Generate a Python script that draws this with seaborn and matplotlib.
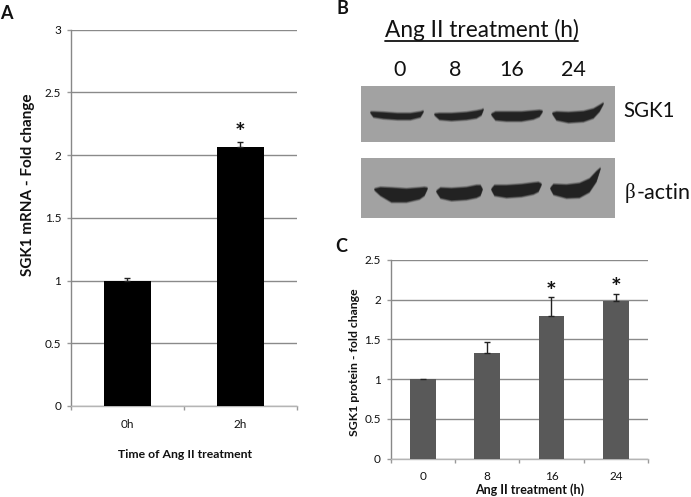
import numpy as np
import pandas as pd
import matplotlib
matplotlib.use("Agg")
import matplotlib.pyplot as plt
from matplotlib.lines import Line2D
import seaborn as sns

W, H = 691, 497

# panel A
mrna_times = ["0h", "2h"]
mrna_fold = [1.0, 2.06]
mrna_err = [0.02, 0.04]
mrna_star_y = [2.17]

# panel C
protein_times = ["0", "8", "16", "24"]
protein_fold = [1.0, 1.33, 1.79, 1.99]
protein_err = [np.nan, 0.14, 0.25, 0.08]
protein_star_y = [2.09, 2.14]

# panel B lanes and blot bands (x, centre, half thickness, in image px of each blot)
lanes = ["0", "8", "16", "24"]
lane_x = [400, 455, 512, 573]

sgk1_bands = [
    ([9, 12, 22, 36, 49, 59, 62], [26, 28, 29, 30, 30, 28, 25], [0.5, 2.5, 3, 3, 3, 2.5, 0.5]),
    ([73, 78, 90, 105, 115, 120, 122], [28, 30, 30.5, 29.5, 28, 26, 23], [0.5, 3, 3.5, 3.5, 3.5, 2.5, 0.5]),
    ([130, 134, 145, 160, 172, 178, 181], [28, 29.5, 30, 30, 28.5, 27, 25], [0.5, 4, 4.5, 4.5, 4, 3, 0.5]),
    ([191, 195, 207, 222, 232, 238, 242], [27, 29.5, 31, 30, 27, 22, 17], [0.5, 4, 5, 5, 4.5, 3, 0.5]),
]
actin_bands = [
    ([13, 19, 30, 45, 58, 63, 66], [31, 33, 36.5, 37, 35, 33, 30], [0.5, 4, 7, 6.5, 5.5, 4, 0.5]),
    ([75, 79, 90, 105, 115, 119, 121], [33, 34.5, 36, 35, 33, 32, 31], [0.5, 5, 6, 6, 6, 5, 0.5]),
    ([130, 133, 145, 160, 172, 177, 180], [31, 32, 33, 32, 30, 28.5, 26], [0.5, 5, 6, 6, 5.5, 4.5, 0.5]),
    ([189, 192, 205, 218, 228, 235, 239], [30, 31, 33, 32, 27, 18, 10], [0.5, 5, 6.5, 7, 6.5, 5, 0.5]),
]

sns.set_theme(style="white")
plt.rcParams["font.family"] = ["Lato", "DejaVu Sans"]
TEXT = "#111111"
GRID = "#8a8a8a"


def px_axes(fig, left, top, right, bottom):
    return fig.add_axes([left / W, 1 - bottom / H, (right - left) / W, (bottom - top) / H])


def px_text(fig, x, y, s, **kw):
    kw.setdefault("ha", "center")
    kw.setdefault("va", "center")
    kw.setdefault("color", TEXT)
    return fig.text(x / W, 1 - y / H, s, **kw)


def bar_panel(ax, cats, vals, errs, color, ymax, step, tick_size, bar_width):
    df = pd.DataFrame({"time": cats, "fold": vals})
    sns.barplot(data=df, x="time", y="fold", color=color, saturation=1, width=bar_width,
                ax=ax, zorder=3, errorbar=None, linewidth=0)
    pos = np.arange(len(cats))
    ax.errorbar(pos, vals, yerr=[np.zeros(len(errs)), errs], fmt="none", ecolor="#222222",
                elinewidth=1, capsize=2.5, capthick=1, zorder=4)
    ax.set_xlim(-0.5, len(cats) - 0.5)
    ax.set_ylim(0, ymax)
    ax.set_yticks(np.arange(0, ymax + step / 2, step))
    ax.set_yticklabels([f"{v:g}" for v in np.arange(0, ymax + step / 2, step)])
    ax.set_xlabel("")
    ax.set_ylabel("")
    ax.yaxis.grid(True, color=GRID, lw=1)
    ax.set_axisbelow(True)
    ax.set_xticks(np.arange(len(cats) + 1) - 0.5, minor=True)
    ax.tick_params(axis="x", which="major", length=0, labelsize=tick_size, pad=9, colors=TEXT)
    ax.tick_params(axis="x", which="minor", length=3, width=1, color="#999999", bottom=True)
    ax.tick_params(axis="y", length=3, width=1, color="#999999", left=True, labelsize=tick_size,
                   pad=4, labelcolor=TEXT)
    sns.despine(ax=ax)
    ax.spines["left"].set_color("#888888")
    ax.spines["bottom"].set_color("#b5b5b5")
    for s in ("left", "bottom"):
        ax.spines[s].set_linewidth(1)


def blot(ax, bands, height):
    ax.set_facecolor("#a2a2a2")
    ax.set_xlim(0, 254)
    ax.set_ylim(height, 0)
    ax.set_xticks([])
    ax.set_yticks([])
    for s in ax.spines.values():
        s.set_visible(False)
    for xs, mid, half in bands:
        xs, mid, half = np.array(xs), np.array(mid), np.array(half)
        # soft edge around the dark core
        for grow, alpha in ((1.6, 0.25), (0.9, 0.4), (0.3, 0.6)):
            ax.fill_between(xs, mid - half - grow, mid + half + grow, color="#303030", lw=0, alpha=alpha)
        ax.fill_between(xs, mid - half + 0.3, mid + half - 0.3, color="#222222", lw=0)


fig = plt.figure(figsize=(W / 100, H / 100), dpi=100)
fig.patch.set_facecolor("white")

# A
ax_a = px_axes(fig, 71, 29.5, 297, 406)
bar_panel(ax_a, mrna_times, mrna_fold, mrna_err, "#000000", 3, 0.5, 8.5, 0.41)
ax_a.text(1, mrna_star_y[0], "*", ha="center", va="center", fontsize=18, fontweight="bold", color=TEXT)
px_text(fig, 185.5, 454, "Time of Ang II treatment", fontsize=8.8, fontweight="bold")
px_text(fig, 28, 185, "SGK1 mRNA - Fold change", fontsize=11, fontweight="bold", rotation=90)
px_text(fig, 6.5, 19, "A", fontsize=13, fontweight="bold", va="baseline")

# B
px_text(fig, 342, 14, "B", fontsize=13, fontweight="bold", va="baseline")
px_text(fig, 481.5, 30, "Ang II treatment (h)", fontsize=16.3)
fig.add_artist(Line2D([385 / W, 578 / W], [1 - 41 / H, 1 - 41 / H], color=TEXT, lw=1.3))
for x, lab in zip(lane_x, lanes):
    px_text(fig, x, 70, lab, fontsize=15.5)
blot(px_axes(fig, 361, 86, 615, 142), sgk1_bands, 56)
blot(px_axes(fig, 361, 158, 615, 218), actin_bands, 60)
px_text(fig, 649, 111, "SGK1", fontsize=14.8)
px_text(fig, 625, 193, "β", fontsize=15, ha="left", family="Liberation Serif")
px_text(fig, 637, 193, "-actin", fontsize=15.5, ha="left")

# C
ax_c = px_axes(fig, 390.5, 260, 648, 458.7)
bar_panel(ax_c, protein_times, protein_fold, protein_err, "#595959", 2.5, 0.5, 8.5, 0.4)
for x, y in zip([2, 3], protein_star_y):
    ax_c.text(x, y, "*", ha="center", va="center", fontsize=18, fontweight="bold", color=TEXT)
px_text(fig, 530, 490, "Ang II treatment (h)", fontsize=9, fontweight="bold")
px_text(fig, 355, 362, "SGK1 protein - fold change", fontsize=8.8, fontweight="bold", rotation=90)
px_text(fig, 341, 252, "C", fontsize=13, fontweight="bold", va="baseline")

fig.savefig("out.png", dpi=100)
